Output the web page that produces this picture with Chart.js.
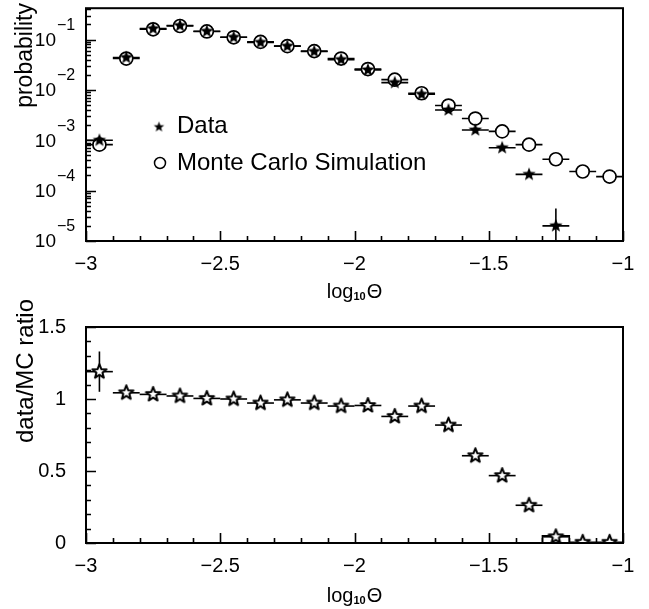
<!DOCTYPE html>
<html>
<head>
<meta charset="utf-8">
<script src="https://cdn.jsdelivr.net/npm/chart.js@4.4.0/dist/chart.umd.min.js"></script>
<style>
  html, body { margin: 0; padding: 0; background: #fff; }
  #top { position: absolute; left: 0; top: 0; width: 649px; height: 310px; }
  #bot { position: absolute; left: 0; top: 295px; width: 649px; height: 314px; }
</style>
</head>
<body>
<div id="top"><canvas id="c1" width="649" height="310"></canvas></div>
<div id="bot"><canvas id="c2" width="649" height="314"></canvas></div>
<script>
// bins of log10(theta), width 0.1
var binCenters = [-2.95, -2.85, -2.75, -2.65, -2.55, -2.45, -2.35, -2.25, -2.15, -2.05,
                  -1.95, -1.85, -1.75, -1.65, -1.55, -1.45, -1.35, -1.25, -1.15, -1.05];
var binHalfWidth = 0.05;

// top panel: probability
var dataProb = [1.0e-3, 0.044, 0.165, 0.19, 0.146, 0.111, 0.088, 0.074, 0.058, 0.040,
                0.025, 0.0140, 0.0082, 0.0040, 0.0016, 0.00071, 0.00021, 2.0e-5, null, null];
var dataProbErr = [2.0e-4, 0, 0, 0, 0, 0, 0, 0, 0, 0,
                   0, 0, 0, 0, 0, 0, 0, 2.4e-5, 0, 0];
var mcProb = [8.2e-4, 0.042, 0.160, 0.186, 0.145, 0.111, 0.090, 0.074, 0.059, 0.042,
              0.026, 0.016, 0.0086, 0.0049, 0.0027, 0.0015, 0.00082, 0.00042, 0.00024, 0.00019];

// bottom panel: data/MC ratio
var ratio = [1.19, 1.043, 1.032, 1.021, 1.004, 1.0, 0.972, 0.994, 0.972, 0.951,
             0.955, 0.879, 0.951, 0.819, 0.606, 0.468, 0.262, 0.043, 0.005, 0.005];
var ratioErr = [0.14, 0.01, 0.01, 0.01, 0.01, 0.01, 0.01, 0.01, 0.01, 0.01,
                0.01, 0.01, 0.01, 0.015, 0.02, 0.02, 0.02, 0.01, 0, 0];
var ratioBox = [null, null, null, null, null, null, null, null, null, null,
                null, null, null, null, null, null, null, 0.05, null, null];

var xTickStep = 0.5;
var ratioTickStep = 0.5;
var probMin = 1e-5, probMax = 0.42;

var FONT = "'Liberation Sans', Arial, Helvetica, sans-serif";

function fmtNeg(v) {
  return v < 0 ? "\u2212" + Math.abs(v) : String(v);
}

function pts(ys, errs) {
  return binCenters.map(function (x, i) {
    return { x: x, y: ys[i], e: errs ? errs[i] : 0 };
  });
}

function starCanvas(r, filled, lw) {
  var s = Math.ceil(2 * r + lw + 2);
  var c = document.createElement("canvas");
  c.width = s;
  c.height = s;
  var g = c.getContext("2d");
  g.translate(s / 2, s / 2);
  g.beginPath();
  for (var i = 0; i < 10; i++) {
    var rr = i % 2 ? r * 0.42 : r;
    var a = -Math.PI / 2 + (i * Math.PI) / 5;
    g.lineTo(rr * Math.cos(a), rr * Math.sin(a));
  }
  g.closePath();
  if (filled) {
    g.fillStyle = "#000";
    g.fill();
  } else {
    g.fillStyle = "#fff";
    g.fill();
    g.lineWidth = lw;
    g.lineJoin = "round";
    g.strokeStyle = "#000";
    g.stroke();
  }
  return c;
}

// horizontal bin bars + vertical error bars, under the markers
var errorBars = {
  id: "errorBars",
  beforeDatasetsDraw: function (chart) {
    var ctx = chart.ctx, xs = chart.scales.x, ys = chart.scales.y, a = chart.chartArea;
    var isLog = ys.type === "logarithmic";
    ctx.save();
    ctx.beginPath();
    ctx.rect(a.left, a.top, a.right - a.left, a.bottom - a.top);
    ctx.clip();
    ctx.strokeStyle = "#000";
    ctx.lineWidth = 1.6;
    chart.data.datasets.forEach(function (ds) {
      ds.data.forEach(function (p, i) {
        if (p.y == null) return;
        var y = ys.getPixelForValue(p.y);
        ctx.beginPath();
        ctx.moveTo(xs.getPixelForValue(p.x - binHalfWidth), y);
        ctx.lineTo(xs.getPixelForValue(p.x + binHalfWidth), y);
        ctx.stroke();
        if (p.e) {
          var lo = p.y - p.e;
          if (isLog && lo <= 0) lo = ys.min * 0.5;
          var x = xs.getPixelForValue(p.x);
          ctx.beginPath();
          ctx.moveTo(x, ys.getPixelForValue(lo));
          ctx.lineTo(x, ys.getPixelForValue(p.y + p.e));
          ctx.stroke();
        }
        if (ds.boxes && ds.boxes[i] != null) {
          var x0 = xs.getPixelForValue(p.x - binHalfWidth);
          var x1 = xs.getPixelForValue(p.x + binHalfWidth);
          var yb = ys.getPixelForValue(0), yt = ys.getPixelForValue(ds.boxes[i]);
          ctx.strokeRect(x0, yt, x1 - x0, yb - yt);
        }
      });
    });
    ctx.restore();
  }
};

// frame, inside ticks, log labels, axis titles, legend
var decor = {
  id: "decor",
  afterDraw: function (chart, args, opts) {
    var ctx = chart.ctx, xs = chart.scales.x, ys = chart.scales.y, a = chart.chartArea;
    ctx.save();
    ctx.strokeStyle = "#000";
    ctx.fillStyle = "#000";
    ctx.lineWidth = 1.6;
    ctx.beginPath();
    // x ticks every 0.1, bigger every 0.5
    for (var i = 0; i <= 20; i++) {
      var v = xs.min + i * 0.1;
      var px = Math.round(xs.getPixelForValue(v)) + 0.5;
      var len = i % 5 === 0 ? 10 : 5;
      ctx.moveTo(px, a.bottom);
      ctx.lineTo(px, a.bottom - len);
    }
    // y ticks
    if (ys.type === "logarithmic") {
      for (var k = -5; k <= 0; k++) {
        for (var m = 1; m <= 9; m++) {
          var lv = m * Math.pow(10, k);
          if (lv < ys.min || lv > ys.max) continue;
          var py = Math.round(ys.getPixelForValue(lv)) + 0.5;
          ctx.moveTo(a.left, py);
          ctx.lineTo(a.left + (m === 1 ? 10 : 5), py);
        }
      }
    } else {
      for (var j = 0; j <= 15; j++) {
        var yv = j * 0.1;
        var py2 = Math.round(ys.getPixelForValue(yv)) + 0.5;
        ctx.moveTo(a.left, py2);
        ctx.lineTo(a.left + (j % 5 === 0 ? 10 : 5), py2);
      }
    }
    ctx.stroke();
    ctx.lineWidth = 2;
    ctx.strokeRect(a.left, a.top, a.right - a.left, a.bottom - a.top);

    // log tick labels 10^k
    if (ys.type === "logarithmic") {
      for (var d = -5; d <= -1; d++) {
        var ty = ys.getPixelForValue(Math.pow(10, d));
        ctx.font = "19px " + FONT;
        ctx.textAlign = "right";
        ctx.textBaseline = "middle";
        ctx.fillText("10", 56, ty + 1);
        ctx.font = "16px " + FONT;
        ctx.textAlign = "left";
        ctx.fillText("\u2212" + Math.abs(d), 57, ty - 14);
      }
    }

    // x title log10(Theta)
    var tx = (a.left + a.right) / 2, tb = opts.xTitleY;
    ctx.textBaseline = "alphabetic";
    ctx.textAlign = "left";
    ctx.font = "20px " + FONT;
    var w1 = ctx.measureText("log").width, w3 = ctx.measureText("\u0398").width;
    ctx.font = "bold 11px " + FONT;
    var w2 = ctx.measureText("10").width;
    var x0 = tx - (w1 + w2 + w3 + 1) / 2;
    ctx.font = "20px " + FONT;
    ctx.fillText("log", x0, tb);
    ctx.font = "bold 11px " + FONT;
    ctx.fillText("10", x0 + w1, tb + 2);
    ctx.font = "20px " + FONT;
    ctx.fillText("\u0398", x0 + w1 + w2 + 1, tb);

    // y title, aligned to the top of the axis
    ctx.save();
    ctx.translate(opts.yTitleX, opts.yTitleTop);
    ctx.rotate(-Math.PI / 2);
    ctx.font = opts.yTitleSize + "px " + FONT;
    ctx.textAlign = "right";
    ctx.textBaseline = "middle";
    ctx.fillText(opts.yTitle, 0, 0);
    ctx.restore();

    // legend
    if (opts.legend) {
      var st = starCanvas(5.5, true, 0);
      ctx.drawImage(st, 159 - st.width / 2, 127 - st.height / 2);
      ctx.lineWidth = 1.5;
      ctx.beginPath();
      ctx.arc(160, 163, 5.5, 0, Math.PI * 2);
      ctx.stroke();
      ctx.font = "24px " + FONT;
      ctx.textAlign = "left";
      ctx.textBaseline = "alphabetic";
      ctx.fillText("Data", 177, 133);
      ctx.fillText("Monte Carlo Simulation", 177, 170);
    }
    ctx.restore();
  }
};

var xScale = function (h) {
  return {
    type: "linear",
    min: -3,
    max: -1,
    afterFit: function (s) { s.height = h; },
    grid: { display: false, drawTicks: false },
    border: { display: false },
    ticks: {
      stepSize: xTickStep,
      padding: 11,
      color: "#000",
      font: { family: FONT, size: 20 },
      maxRotation: 0,
      callback: function (v) { return fmtNeg(v); }
    }
  };
};

new Chart(document.getElementById("c1"), {
  type: "scatter",
  data: {
    datasets: [
      {
        label: "Data",
        data: pts(dataProb, dataProbErr),
        pointStyle: starCanvas(7, true, 0),
        pointRadius: 7
      },
      {
        label: "Monte Carlo Simulation",
        data: pts(mcProb, null),
        pointStyle: "circle",
        pointRadius: 6.5,
        borderWidth: 1.7,
        borderColor: "#000",
        backgroundColor: "#fff"
      }
    ]
  },
  options: {
    responsive: false,
    animation: false,
    events: [],
    layout: { padding: { top: 5, right: 26, left: 0, bottom: 0 } },
    scales: {
      x: xScale(69),
      y: {
        type: "logarithmic",
        min: probMin,
        max: probMax,
        afterFit: function (s) { s.width = 86; },
        grid: { display: false, drawTicks: false },
        border: { display: false },
        ticks: { display: false }
      }
    },
    plugins: {
      legend: { display: false },
      tooltip: { enabled: false },
      decor: { xTitleY: 298, yTitleX: 26, yTitleTop: 3, yTitle: "probability", yTitleSize: 23, legend: true }
    }
  },
  plugins: [errorBars, decor]
});

new Chart(document.getElementById("c2"), {
  type: "scatter",
  data: {
    datasets: [
      {
        label: "data/MC ratio",
        data: pts(ratio, ratioErr),
        boxes: ratioBox,
        pointStyle: starCanvas(7.5, false, 2),
        pointRadius: 7.5
      }
    ]
  },
  options: {
    responsive: false,
    animation: false,
    events: [],
    layout: { padding: { top: 14, right: 26, left: 0, bottom: 0 } },
    scales: {
      x: xScale(66),
      y: {
        type: "linear",
        min: 0,
        max: 1.5,
        afterFit: function (s) { s.width = 86; },
        grid: { display: false, drawTicks: false },
        border: { display: false },
        ticks: {
          stepSize: ratioTickStep,
          padding: 20,
          color: "#000",
          font: { family: FONT, size: 20 },
          callback: function (v) { return String(v); }
        }
      }
    },
    plugins: {
      legend: { display: false },
      tooltip: { enabled: false },
      decor: { xTitleY: 307, yTitleX: 26, yTitleTop: 4, yTitle: "data/MC ratio", yTitleSize: 24, legend: false }
    }
  },
  plugins: [errorBars, decor]
});
</script>
</body>
</html>
